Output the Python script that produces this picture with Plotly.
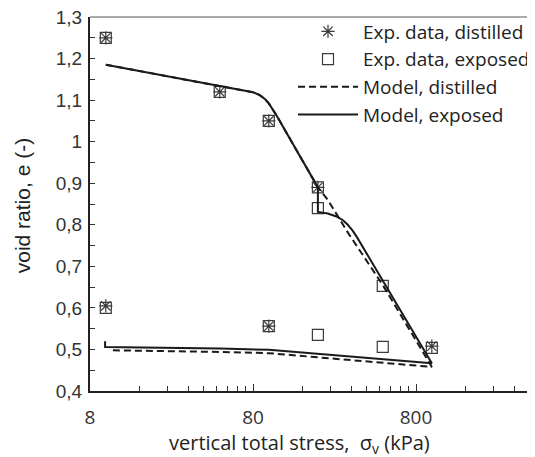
import numpy as np
import plotly.graph_objects as go

# Experimental data
stress_dist = [10, 50, 100, 200, 1000, 100, 10]
e_dist = [1.25, 1.12, 1.05, 0.89, 0.508, 0.556, 0.605]

stress_exp = [10, 50, 100, 200, 200, 500, 1000, 500, 200, 100, 10]
e_exp = [1.25, 1.12, 1.05, 0.89, 0.84, 0.653, 0.504, 0.506, 0.535, 0.556, 0.60]

# Model curves
model_dist_s = [10, 50, 70, 80, 88, 95, 100, 105, 112, 200, 230, 307, 389, 500, 1000,
                500, 340, 200, 100, 50, 10.5]
model_dist_e = [1.185, 1.134, 1.124, 1.119, 1.112, 1.102, 1.092, 1.08, 1.062, 0.89, 0.86, 0.78, 0.72,
                0.655, 0.458, 0.468, 0.475, 0.482, 0.491, 0.494, 0.498]

model_exp_s = [10, 50, 70, 80, 88, 95, 100, 105, 112, 200, 200, 230, 260, 285, 305, 325, 345, 1000,
               500, 340, 200, 100, 50, 20, 9.9, 9.9]
model_exp_e = [1.185, 1.134, 1.124, 1.119, 1.112, 1.102, 1.092, 1.08, 1.062, 0.89, 0.831, 0.827, 0.82,
               0.811, 0.80, 0.787, 0.772, 0.467, 0.477, 0.482, 0.490, 0.499, 0.502, 0.504, 0.506, 0.52]

y_ticks = [0.4, 0.5, 0.6, 0.7, 0.8, 0.9, 1.0, 1.1, 1.2, 1.3]
y_labels = ["0,4", "0,5", "0,6", "0,7", "0,8", "0,9", "1", "1,1", "1,2", "1,3"]
x_ticks = [8, 80, 800, 8000]
x_labels = ["8", "80", "800", "8000"]

mk_col = "#3a3a3a"
ln_col = "#1a1a1a"

fig = go.Figure()
fig.add_trace(go.Scatter(x=stress_dist, y=e_dist, mode="markers", name="Exp. data, distilled",
                         legendgroup="a",
                         marker=dict(symbol="asterisk-open", size=11, color=mk_col,
                                     line=dict(color=mk_col, width=1.2))))
fig.add_trace(go.Scatter(x=stress_exp, y=e_exp, mode="markers", name="Exp. data, exposed",
                         legendgroup="b",
                         marker=dict(symbol="square-open", size=11, color=mk_col,
                                     line=dict(color=mk_col, width=1.2))))
fig.add_trace(go.Scatter(x=model_dist_s, y=model_dist_e, mode="lines", name="Model, distilled",
                         legendgroup="c",
                         line=dict(color=ln_col, width=2, dash="7px,4px")))
fig.add_trace(go.Scatter(x=model_exp_s, y=model_exp_e, mode="lines", name="Model, exposed",
                         legendgroup="d",
                         line=dict(color=ln_col, width=2)))

minor_x = [8 * k * 10 ** d for d in range(0, 3) for k in range(2, 10)]
minor_y = [0.45 + 0.1 * i for i in range(9)]

fig.update_layout(
    width=527, height=449,
    margin=dict(l=82, r=0, t=9, b=66),
    plot_bgcolor="white", paper_bgcolor="white",
    showlegend=True,
    legend=dict(x=0.465, y=1.012, xanchor="left", yanchor="top",
                font=dict(family="Open Sans", size=19, color="#222"),
                bgcolor="rgba(0,0,0,0)", itemwidth=60, tracegroupgap=0),
    xaxis=dict(type="log", range=[np.log10(8), np.log10(8) + 445 / 166],
               tickmode="array", tickvals=x_ticks, ticktext=x_labels,
               ticks="inside", ticklen=7, tickwidth=1, tickcolor="#333",
               showline=True, linecolor="#222", linewidth=2,
               showgrid=False, zeroline=False,
               tickfont=dict(family="Open Sans", size=19, color="#333"),
               ticklabelstandoff=8, ticklabeloverflow="allow",
               minor=dict(tickmode="array", tickvals=minor_x, ticks="inside",
                          ticklen=5, tickwidth=1, tickcolor="#333", showgrid=False)),
    yaxis=dict(range=[0.4, 1.3], tickmode="array", tickvals=y_ticks, ticktext=y_labels,
               ticks="inside", ticklen=5, tickwidth=1, tickcolor="#333",
               showline=True, linecolor="#222", linewidth=2,
               showgrid=False, zeroline=False,
               tickfont=dict(family="Liberation Sans", size=19, color="#333"),
               ticklabelstandoff=2, ticklabeloverflow="allow",
               minor=dict(tickmode="array", tickvals=minor_y, ticks="inside",
                          ticklen=5, tickwidth=1, tickcolor="#333", showgrid=False)),
    shapes=[dict(type="line", xref="paper", yref="paper", x0=0, x1=1, y0=1, y1=1,
                 line=dict(color="#555", width=1))],
    annotations=[
        dict(text="vertical total stress,  σ<sub>v</sub> (kPa)", xref="paper", yref="paper",
             x=(303 - 90) / 445, y=-(443 - 391) / 374, xanchor="center", yanchor="middle",
             showarrow=False, font=dict(family="Open Sans", size=20, color="#222")),
        dict(text="void ratio, e (-)", xref="paper", yref="paper", textangle=-90,
             x=(21 - 90) / 445, y=(391 - 206) / 374, xanchor="center", yanchor="middle",
             showarrow=False, font=dict(family="Liberation Sans", size=21, color="#222")),
    ],
)

fig.write_html("out.html")
